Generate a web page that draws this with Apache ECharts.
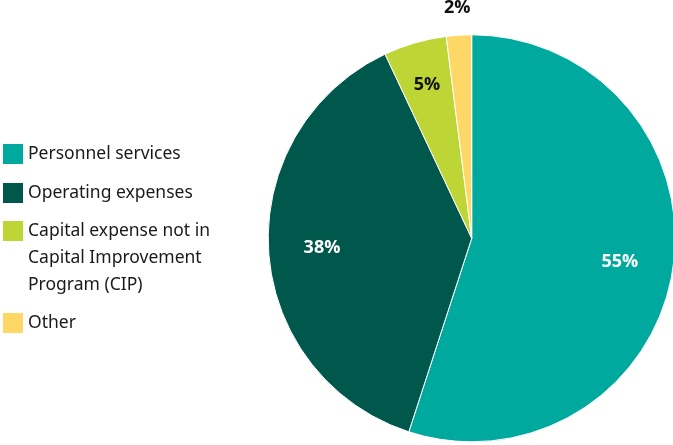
<!DOCTYPE html>
<html>
<head>
<meta charset="utf-8">
<script src="https://cdn.jsdelivr.net/npm/echarts@6/dist/echarts.min.js"></script>
<style>
html,body{margin:0;padding:0;background:#fff;}
#c{width:673px;height:445px;}
</style>
</head>
<body>
<div id="c"></div>
<script>
const categories = ['Personnel services', 'Operating expenses', 'Capital expense not in\nCapital Improvement\nProgram (CIP)', 'Other'];
const values = [55, 38, 5, 2];
const sliceLabels = ['55%', '38%', '5%', '2%'];
const colors = ['#00A99D', '#00574B', '#BDD535', '#FED866'];
const labelColors = ['#ffffff', '#ffffff', '#111111', '#111111'];

const FONT = 'Noto Sans';
const LABEL_FONT = 'Open Sans';
const CENTER = [471.7, 238.3];
const R = 203.5;

const pieData = categories.map((n, i) => ({ name: n, value: values[i], itemStyle: { color: colors[i] } }));

function labelRing(r0, r1, showIdx) {
  return {
    type: 'pie',
    center: CENTER,
    radius: [r0, r1],
    startAngle: 90,
    clockwise: true,
    silent: true,
    animation: false,
    emphasis: { disabled: true },
    itemStyle: { color: 'rgba(0,0,0,0)', borderWidth: 0 },
    labelLine: { show: false },
    data: categories.map((n, i) => ({
      name: n,
      value: values[i],
      itemStyle: { color: 'rgba(0,0,0,0)' },
      label: {
        show: showIdx.indexOf(i) >= 0,
        position: 'inside',
        formatter: sliceLabels[i],
        color: labelColors[i],
        fontFamily: LABEL_FONT,
        fontWeight: 'bold',
        fontSize: 18
      }
    }))
  };
}

function legendFor(i, top, lineHeight, formatter) {
  return {
    orient: 'vertical',
    left: 3,
    top: top,
    padding: 0,
    icon: 'rect',
    itemWidth: 20,
    itemHeight: 20,
    itemGap: 5,
    selectedMode: false,
    itemStyle: { borderWidth: 0 },
    formatter: formatter || '{name}',
    data: [categories[i]],
    textStyle: { fontFamily: FONT, fontSize: 17.5, color: '#1a1a1a', lineHeight: lineHeight }
  };
}

const chart = echarts.init(document.getElementById('c'), null, { renderer: 'canvas' });
chart.setOption({
  animation: false,
  backgroundColor: '#ffffff',
  legend: [
    legendFor(0, 144, 20),
    legendFor(1, 183, 20),
    // two empty lines on top keep the first text line level with the swatch
    legendFor(2, 163.5, 27, function (name) { return '\n\n' + name; }),
    legendFor(3, 313, 20)
  ],
  series: [
    {
      type: 'pie',
      center: CENTER,
      radius: [0, R],
      startAngle: 90,
      clockwise: true,
      silent: true,
      emphasis: { disabled: true },
      itemStyle: { borderColor: '#ffffff', borderWidth: 1 },
      label: { show: false },
      labelLine: { show: false },
      data: pieData
    },
    labelRing(91, 203, [0, 1]),
    labelRing(111, 203, [2]),
    labelRing(216, 240, [3])
  ]
});
</script>
</body>
</html>
